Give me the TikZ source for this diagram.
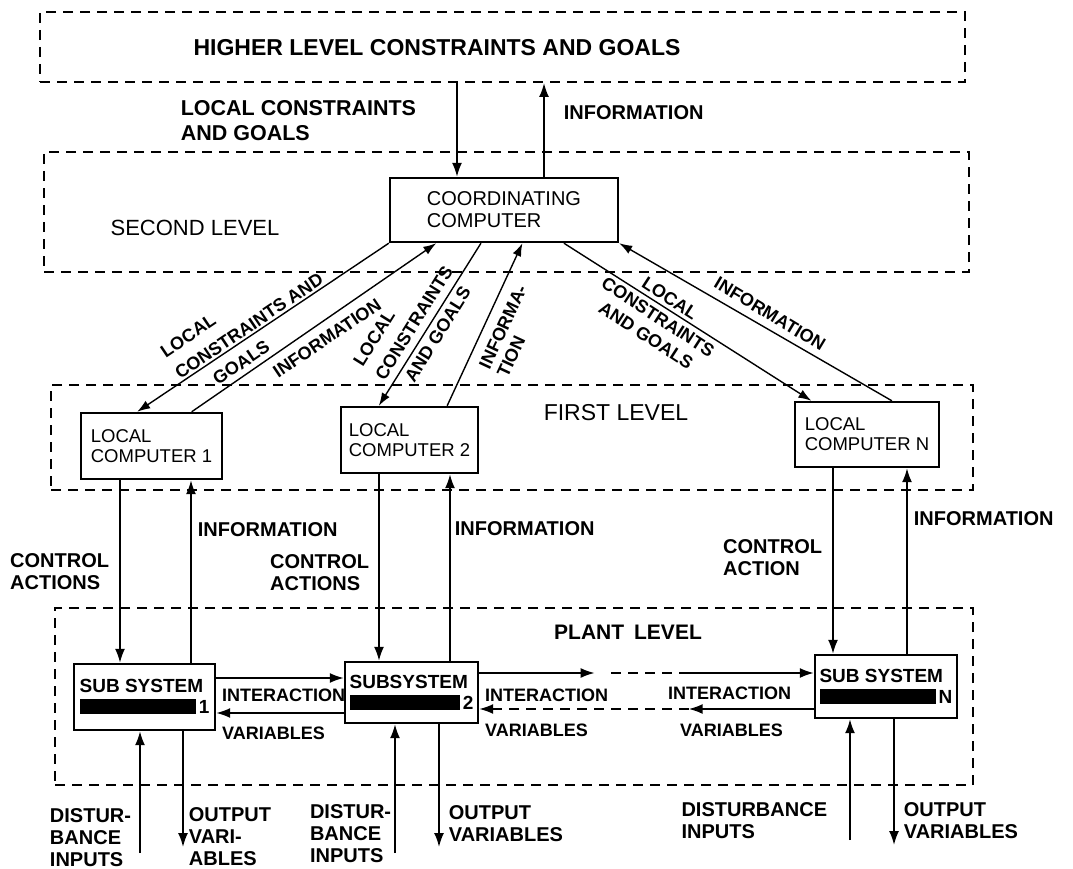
\documentclass[tikz,border=0pt]{standalone}
\usepackage{fontspec}
\setmainfont{Liberation Sans}
\usetikzlibrary{arrows.meta, positioning, calc}

\begin{document}
\begin{tikzpicture}[x=1pt, y=-1pt,
  every node/.style={font=\bfseries\fontsize{20}{22}\selectfont, inner sep=0pt},
  frame/.style={draw, line width=2pt, dash pattern=on 10pt off 7pt},
  box/.style={draw, line width=2.4pt, fill=white, align=left},
  cbox/.style={box, font=\fontsize{18.5}{20}\selectfont},
  sbox/.style={box, font=\bfseries\fontsize{19}{21}\selectfont},
  lvl/.style={font=\fontsize{22}{24}\selectfont},
  inter/.style={font=\bfseries\fontsize{18}{21}\selectfont},
  slant/.style={font=\bfseries\fontsize{18}{20}\selectfont},
  arrow/.style={-{Latex[length=14pt, width=10pt]}, line width=1.8pt},
  diag/.style={-{Latex[length=13pt, width=9pt]}, line width=1.4pt},
  link/.style={line width=1.8pt, dash pattern=on 10pt off 7pt}
]
  \useasboundingbox (0,0) rectangle (1073,869);

  % levels
  \node[frame, minimum width=925pt, minimum height=70pt] (higher) at (502.5,47) {};
  \node[frame, minimum width=925pt, minimum height=120pt] (second) at (506.5,212) {};
  \node[frame, minimum width=922pt, minimum height=105pt] (first) at (512,437.5) {};
  \node[frame, minimum width=918pt, minimum height=177pt] (plant) at (514,696.5) {};

  \node[font=\bfseries\fontsize{23}{25}\selectfont] (goals) at (437,48) {HIGHER LEVEL CONSTRAINTS AND GOALS};
  \node[lvl] (secondlbl) at (195,228) {SECOND LEVEL};
  \node[lvl, font=\fontsize{23}{25}\selectfont] (firstlbl) at (616,413) {FIRST LEVEL};
  \node[font=\bfseries\fontsize{21}{23}\selectfont] (plantlbl) at (628,632) {PLANT\hspace{10pt}LEVEL};

  % computers
  \node[box, font=\fontsize{20}{22}\selectfont, minimum width=228pt, minimum height=64pt] (cc) at (504,210) {COORDINATING\\COMPUTER};
  \node[cbox, minimum width=141pt, minimum height=66pt] (lc1) at (151.5,446) {LOCAL\\COMPUTER 1};
  \node[cbox, minimum width=137pt, minimum height=66pt] (lc2) at (409.5,440) {LOCAL\\COMPUTER 2};
  \node[cbox, minimum width=144pt, minimum height=65pt] (lcn) at (867,434.5) {LOCAL\\COMPUTER N};

  % subsystems
  \node[sbox, minimum width=141pt, minimum height=66pt] (ss1) at (144.5,697) {SUB SYSTEM\\\rule[-0.5pt]{116pt}{15pt}\,1};
  \node[sbox, minimum width=133pt, minimum height=61pt] (ss2) at (411.5,692.5) {SUBSYSTEM\\\rule[-0.5pt]{110pt}{15pt}\,2};
  \node[sbox, minimum width=142pt, minimum height=63pt] (ssn) at (886,686.5) {SUB SYSTEM\\\rule[-0.5pt]{116pt}{15pt}\,N};

  % top level
  \draw[arrow] (higher.south -| 457,0) -- (cc.north -| 457,0)
    node[pos=0.4, left=40pt, align=left, font=\bfseries\fontsize{21.5}{25}\selectfont] (lcgoals) {LOCAL CONSTRAINTS\\AND GOALS};
  \draw[arrow] (cc.north -| 544,0) -- (higher.south -| 544,0)
    node[pos=0.68, right=19pt] (info0) {INFORMATION};

  % second level to first level
  \foreach \s/\t/\k in {0/.40/1, .40/.28/2, .76/.12/n}
    \draw[diag] ($(cc.south west)!\s!(cc.south east)$) -- ($(lc\k.north west)!\t!(lc\k.north east)$);
  \foreach \s/\t/\k in {.206/.78/1, .58/.77/2, 1/.67/n}
    \draw[diag] ($(lc\k.north west)!\t!(lc\k.north east)$) -- ($(cc.south west)!\s!(cc.south east)$);

  \node[slant, rotate=34, align=left, font=\bfseries\fontsize{18}{26}\selectfont] (dlab1) at (249,326) {LOCAL\\CONSTRAINTS AND\\\hspace*{28pt}GOALS};
  \node[slant, rotate=34] (dlab2) at (327,338) {INFORMATION};
  \node[slant, rotate=58, align=left, font=\bfseries\fontsize{18}{26}\selectfont] (dlab3) at (414,323) {LOCAL\\CONSTRAINTS\\\hspace*{14pt}AND GOALS};
  \node[slant, rotate=65, align=left] (dlab4) at (512,331) {INFORMA-\\TION};
  \node[slant, rotate=-33, align=center, font=\bfseries\fontsize{18}{22}\selectfont] (dlab5) at (658,317) {LOCAL\\CONSTRAINTS\\AND GOALS};
  \node[slant, rotate=-31] (dlab6) at (770,314) {INFORMATION};

  % first level to plant level
  \draw[arrow] (lc1.south -| 120,0) -- (ss1.north -| 120,0)
    node[midway, left=10pt, align=left] (ctl1) {CONTROL\\ACTIONS};
  \draw[arrow] (ss1.north -| 191,0) -- (lc1.south -| 191,0)
    node[pos=0.73, right=6pt] (info1) {INFORMATION};
  \draw[arrow] (lc2.south -| 379,0) -- (ss2.north -| 379,0)
    node[pos=0.53, left=9pt, align=left] (ctl2) {CONTROL\\ACTIONS};
  \draw[arrow] (ss2.north -| 450,0) -- (lc2.south -| 450,0)
    node[pos=0.71, right=4pt] (info2) {INFORMATION};
  \draw[arrow] (lcn.south -| 833,0) -- (ssn.north -| 833,0)
    node[pos=0.48, left=10pt, align=left] (ctln) {CONTROL\\ACTION};
  \draw[arrow] (ssn.north -| 907,0) -- (lcn.south -| 907,0)
    node[pos=0.73, right=6pt] (infon) {INFORMATION};

  % interaction variables
  \draw[arrow] (ss1.east |- 0,678) -- (ss2.west |- 0,678);
  \draw[arrow] (ss2.west |- 0,713) -- (ss1.east |- 0,713);
  \draw[arrow] (ss2.east |- 0,673) coordinate (i1) -- ($(i1)!.345!(ssn.west |- 0,673)$);
  \draw[link] ($(i1)!.395!(ssn.west |- 0,673)$) -- ($(i1)!.626!(ssn.west |- 0,673)$);
  \draw[arrow] ($(i1)!.626!(ssn.west |- 0,673)$) -- (ssn.west |- 0,673);
  \draw[arrow] (ssn.west |- 0,709) coordinate (i2) -- ($(i2)!.374!(ss2.east |- 0,709)$);
  \draw[link] ($(i2)!.374!(ss2.east |- 0,709)$) -- ($(i2)!.95!(ss2.east |- 0,709)$);
  \draw[arrow] ($(i2)!.95!(ss2.east |- 0,709)$) -- (ss2.east |- 0,709);

  \node[inter, anchor=west] (int1) at (222,695) {INTERACTION};
  \node[inter, anchor=west] (var1) at (222,733) {VARIABLES};
  \node[inter, anchor=west] (int2) at (485,695) {INTERACTION};
  \node[inter, anchor=west] (var2) at (485,730) {VARIABLES};
  \node[inter, anchor=west] (int3) at (668,693) {INTERACTION};
  \node[inter, anchor=west] (var3) at (680,730) {VARIABLES};

  % plant inputs and outputs
  \coordinate (dist1) at (140,853);
  \coordinate (out1) at (183,847);
  \coordinate (dist2) at (395,853);
  \coordinate (out2) at (439,847);
  \coordinate (distn) at (850,840);
  \coordinate (outn) at (894,845);

  \draw[arrow] (dist1) -- (ss1.south -| dist1)
    node[pos=0.13, left=8pt, align=left] (dlbl1) {DISTUR-\\BANCE\\INPUTS};
  \draw[arrow] (ss1.south -| out1) -- (out1)
    node[pos=0.91, right=5pt, align=left] (olbl1) {OUTPUT\\VARI-\\ABLES};
  \draw[arrow] (dist2) -- (ss2.south -| dist2)
    node[pos=0.15, left=3pt, align=left] (dlbl2) {DISTUR-\\BANCE\\INPUTS};
  \draw[arrow] (ss2.south -| out2) -- (out2)
    node[pos=0.81, right=9pt, align=left] (olbl2) {OUTPUT\\VARIABLES};
  \draw[arrow] (distn) -- (ssn.south -| distn)
    node[pos=0.16, left=22pt, align=left] (dlbln) {DISTURBANCE\\INPUTS};
  \draw[arrow] (ssn.south -| outn) -- (outn)
    node[pos=0.81, right=9pt, align=left] (olbln) {OUTPUT\\VARIABLES};
\end{tikzpicture}
\end{document}
